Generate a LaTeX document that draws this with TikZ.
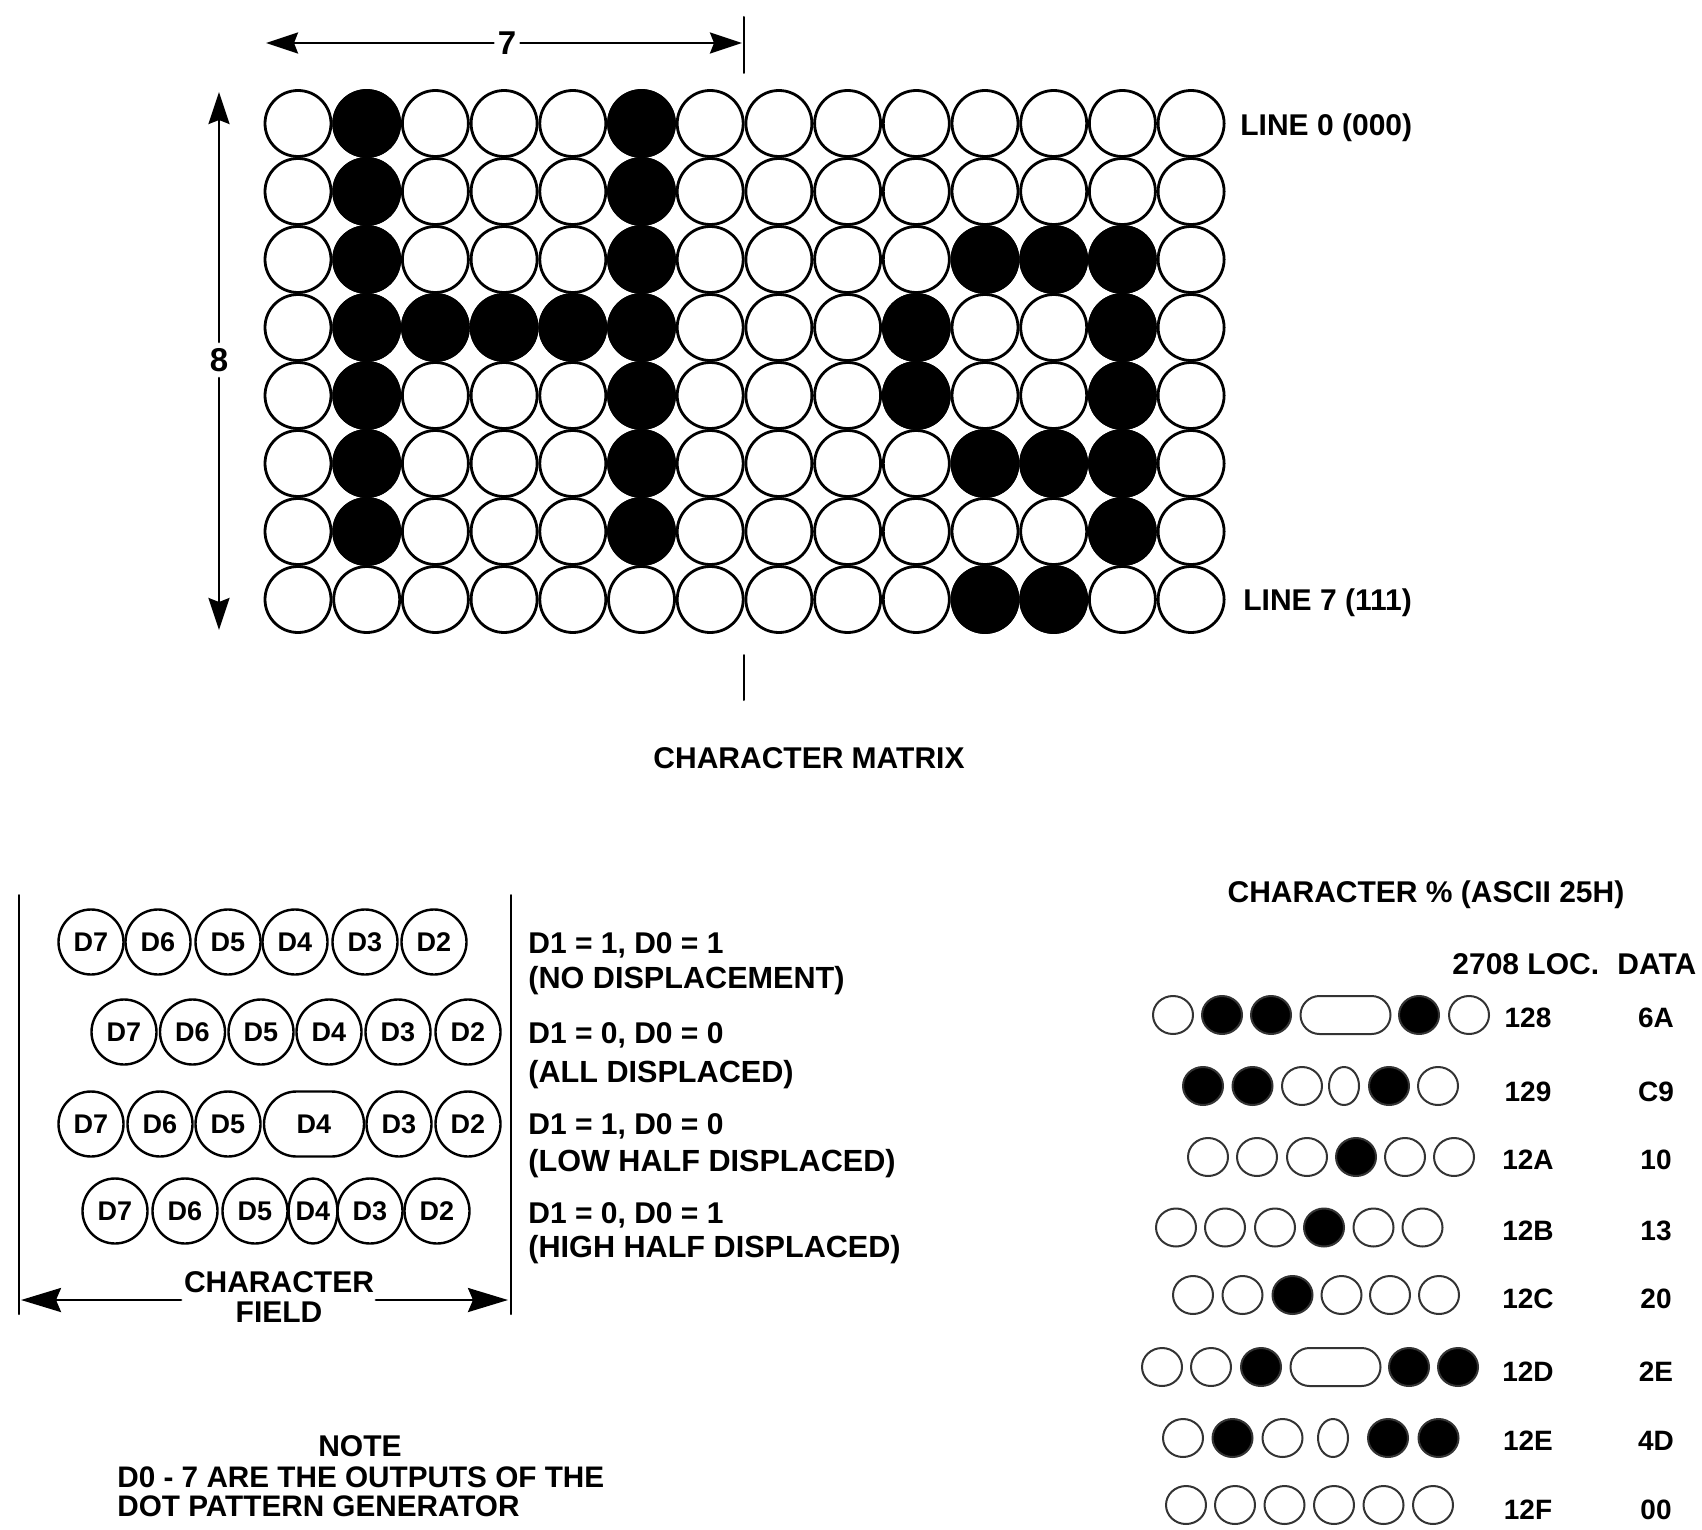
\documentclass[tikz,border=0pt]{standalone}
\usepackage{fontspec}
\setmainfont{Liberation Sans}
\usetikzlibrary{arrows.meta,shapes.geometric,shapes.misc}
\tikzset{
  page/.style={x=0.5pt,y=-0.5pt,>={Stealth[length=16pt,width=10.5pt,inset=2pt]},line join=round,line cap=round},
  label/.style={font=\bfseries\fontsize{15}{17}\selectfont,inner sep=0pt,anchor=base west},
  midlabel/.style={label,anchor=base},
  widelabel/.style={label,font=\bfseries\fontsize{15.3}{17}\selectfont},
  dimlabel/.style={anchor=center,font=\bfseries\fontsize{16.5}{18}\selectfont},
  bigdot/.style={circle,draw,line width=1.4pt,minimum size=33pt,inner sep=0pt,fill=white},
  fulldot/.style={bigdot,fill=black},
  bitdot/.style={ellipse,draw,line width=1.2pt,minimum width=32.5pt,minimum height=32.5pt,inner sep=0pt,font=\bfseries\fontsize{13.5}{15}\selectfont},
  bitslim/.style={bitdot,minimum width=23pt},
  bitwide/.style={rounded rectangle,draw,line width=1.2pt,minimum width=50pt,minimum height=32.5pt,inner sep=0pt,font=\bfseries\fontsize{13.5}{15}\selectfont},
  romdot/.style={ellipse,draw=black!80,line width=1pt,minimum width=20pt,minimum height=19pt,inner sep=0pt},
  romslim/.style={romdot,minimum width=15pt},
  romwide/.style={rounded rectangle,draw=black!80,line width=1pt,minimum width=45pt,minimum height=19pt,inner sep=0pt},
  romtext/.style={midlabel,font=\bfseries\fontsize{14}{16}\selectfont},
  dimline/.style={line width=1.4pt},
  fieldline/.style={dimline,>={Stealth[length=20pt,width=12pt,inset=2.5pt]}},
  marker/.style={line width=1pt}
}
\begin{document}
\begin{tikzpicture}[page]
  \useasboundingbox (0,0) rectangle (1702,1530);

  \foreach \r in {0,...,7}
    \foreach \c in {0,...,13}
      \node[bigdot] (open\r\c) at ({298+68.7*\c},{123.5+68*\r}) {};
  \foreach \r/\blk in {0/{1,5},1/{1,5},2/{1,5,10,11,12},3/{1,2,3,4,5,9,12},
                       4/{1,5,9,12},5/{1,5,10,11,12},6/{1,5,12},7/{10,11}}
    \foreach \c in \blk
      \node[fulldot] (full\r\c) at ({298+68.7*\c},{123.5+68*\r}) {};

  \node[dimlabel,inner sep=2pt] (seven) at (507,43) {7};
  \node[dimlabel,inner sep=3pt] (eight) at (219,360) {8};
  \coordinate (sevenL) at (266,43);
  \coordinate (sevenR) at (742,43);
  \coordinate (eightT) at (219,92);
  \coordinate (eightB) at (219,630);
  \draw[->,dimline] (seven) -- (sevenL);
  \draw[->,dimline] (seven) -- (sevenR);
  \draw[->,dimline] (eight) -- (eightT);
  \draw[->,dimline] (eight) -- (eightB);
  \coordinate (tickA) at (744,17);
  \coordinate (tickB) at (744,73);
  \coordinate (tickC) at (744,655);
  \coordinate (tickD) at (744,700);
  \draw[marker] (tickA) -- (tickB);
  \draw[marker] (tickC) -- (tickD);

  \node[label] (line0) at (1240,135.5) {LINE 0 (000)};
  \node[label] (line7) at (1243,610) {LINE 7 (111)};
  \node[midlabel] (matrix) at (809,768) {CHARACTER MATRIX};

  \foreach \x/\t in {91/D7,158/D6,228/D5,295/D4,365/D3,434/D2}
    \node[bitdot] (none\t) at (\x,942) {\t};
  \foreach \x/\t in {124/D7,192.5/D6,261/D5,329/D4,398/D3,468/D2}
    \node[bitdot] (all\t) at (\x,1032) {\t};
  \foreach \x/\t in {91/D7,160/D6,228/D5,399/D3,468/D2}
    \node[bitdot] (low\t) at (\x,1124) {\t};
  \node[bitwide] (lowD4) at (314,1124) {D4};
  \foreach \x/\t in {115/D7,185/D6,255/D5,370/D3,437/D2}
    \node[bitdot] (high\t) at (\x,1211) {\t};
  \node[bitslim] (highD4) at (313,1211) {D4};

  \coordinate (fieldLT) at (19,895);
  \coordinate (fieldLB) at (19,1314);
  \coordinate (fieldRT) at (510.5,895);
  \coordinate (fieldRB) at (510.5,1314);
  \draw[marker] (fieldLT) -- (fieldLB);
  \draw[marker] (fieldRT) -- (fieldRB);
  \node[midlabel] (fieldA) at (279,1292) {CHARACTER};
  \node[midlabel] (fieldB) at (279,1322) {FIELD};
  \coordinate (fieldL) at (21,1300);
  \coordinate (fieldR) at (508,1300);
  \coordinate (fieldM) at (181,1300);
  \coordinate (fieldN) at (376,1300);
  \draw[->,fieldline] (fieldM) -- (fieldL);
  \draw[->,fieldline] (fieldN) -- (fieldR);

  \node[label] (modeA) at (528,953) {D1 = 1, D0 = 1};
  \node[widelabel] (textA) at (528,988) {(NO DISPLACEMENT)};
  \node[label] (modeB) at (528,1043) {D1 = 0, D0 = 0};
  \node[widelabel] (textB) at (528,1082) {(ALL DISPLACED)};
  \node[label] (modeC) at (528,1134) {D1 = 1, D0 = 0};
  \node[widelabel] (textC) at (528,1171) {(LOW HALF DISPLACED)};
  \node[label] (modeD) at (528,1223) {D1 = 0, D0 = 1};
  \node[widelabel] (textD) at (528,1257.5) {(HIGH HALF DISPLACED)};

  \node[midlabel] (note) at (360,1456) {NOTE};
  \node[label,font=\bfseries\fontsize{14.85}{17}\selectfont] (noteA) at (117,1487.5) {D0 - 7 ARE THE OUTPUTS OF THE};
  \node[label,font=\bfseries\fontsize{14.85}{17}\selectfont] (noteB) at (117,1516) {DOT PATTERN GENERATOR};

  \node[midlabel] (percent) at (1426,902) {CHARACTER \% (ASCII 25H)};
  \node[label] (loc) at (1452,974) {2708 LOC.};
  \node[label] (data) at (1617,974) {DATA};

  \foreach \x/\f [count=\c] in {1173/white,1222/black,1271/black,1419/black,1469/white}
    \node[romdot,fill=\f] (rowa\c) at (\x,1015) {};
  \node[romwide] (rowaw) at (1345.5,1015) {};
  \foreach \x/\f [count=\c] in {1203/black,1252.5/black,1302/white,1389/black,1438/white}
    \node[romdot,fill=\f] (rowb\c) at (\x,1086) {};
  \node[romslim] (rowbs) at (1344,1086) {};
  \foreach \x/\f [count=\c] in {1208/white,1257/white,1307/white,1356/black,1405/white,1454/white}
    \node[romdot,fill=\f] (rowc\c) at (\x,1157) {};
  \foreach \x/\f [count=\c] in {1176/white,1225/white,1275/white,1324/black,1373.5/white,1422.5/white}
    \node[romdot,fill=\f] (rowd\c) at (\x,1227.5) {};
  \foreach \x/\f [count=\c] in {1193/white,1242.5/white,1292.5/black,1341.5/white,1390/white,1439/white}
    \node[romdot,fill=\f] (rowe\c) at (\x,1295) {};
  \foreach \x/\f [count=\c] in {1162/white,1211/white,1261/black,1409/black,1458/black}
    \node[romdot,fill=\f] (rowf\c) at (\x,1367) {};
  \node[romwide] (rowfw) at (1335.5,1367) {};
  \foreach \x/\f [count=\c] in {1183/white,1232.5/black,1282.5/white,1388/black,1438.5/black}
    \node[romdot,fill=\f] (rowg\c) at (\x,1438) {};
  \node[romslim] (rowgs) at (1333,1438) {};
  \foreach \x [count=\c] in {1186,1235,1284.5,1334,1383.5,1433}
    \node[romdot] (rowh\c) at (\x,1505) {};

  \foreach \y/\a/\d in {1027/128/6A,1101/129/C9,1169/12A/10,1240/12B/13,1308/12C/20,1381/12D/2E,1450/12E/4D,1519.5/12F/00} {
    \node[romtext] (addr\a) at (1528,\y) {\a};
    \node[romtext] (byte\a) at (1656,\y) {\d};
  }
\end{tikzpicture}
\end{document}
